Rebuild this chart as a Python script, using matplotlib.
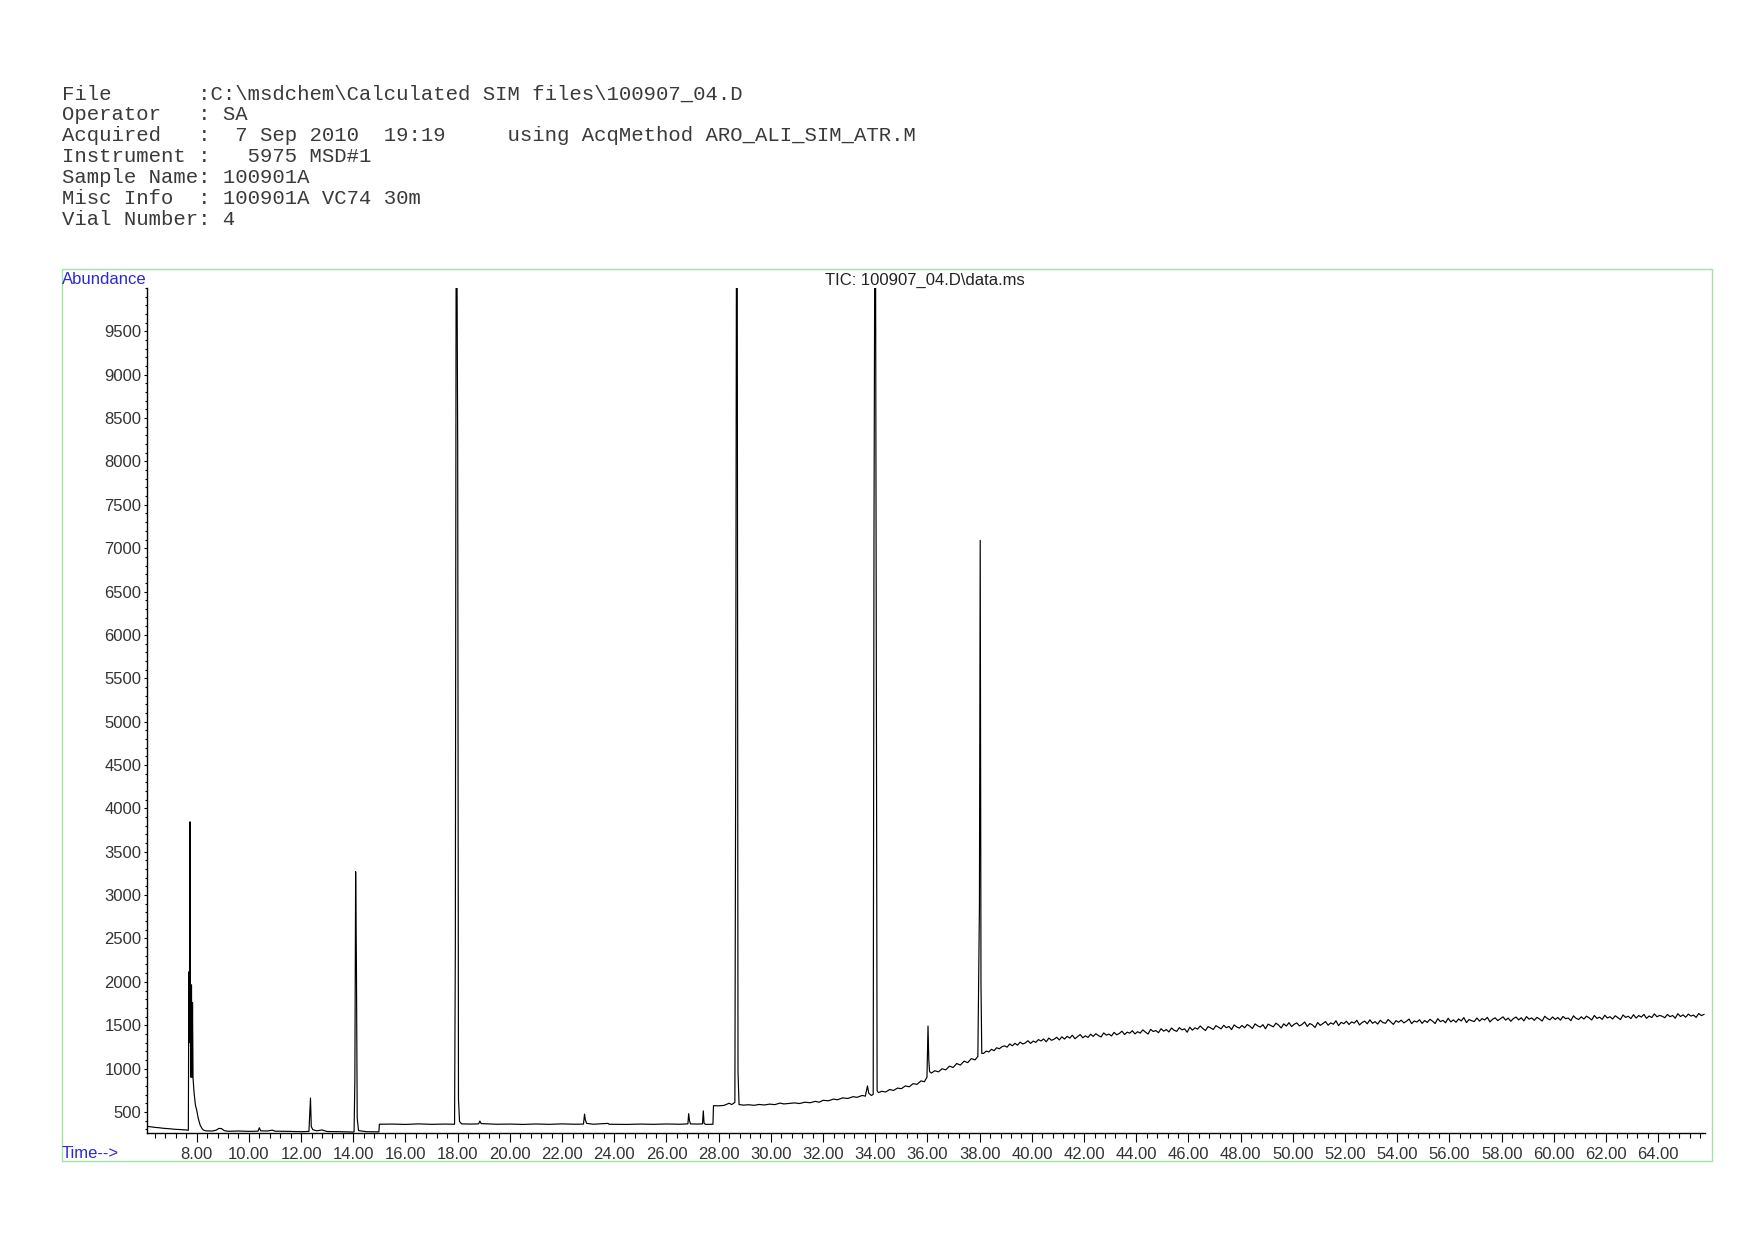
import numpy as np
import matplotlib
matplotlib.use('Agg')
import matplotlib.pyplot as plt
from matplotlib.ticker import FixedLocator, MultipleLocator
from matplotlib.patches import Rectangle

plt.rcParams['font.family'] = ['Liberation Sans', 'DejaVu Sans']

# header block of the ChemStation report
header_lines = [
    'File       :C:\\msdchem\\Calculated SIM files\\100907_04.D',
    'Operator   : SA',
    'Acquired   :  7 Sep 2010  19:19     using AcqMethod ARO_ALI_SIM_ATR.M',
    'Instrument :   5975 MSD#1',
    'Sample Name: 100901A',
    'Misc Info  : 100901A VC74 30m',
    'Vial Number: 4',
]
trace_title = 'TIC: 100907_04.D\\data.ms'

# TIC trace (time in min, abundance)
time_min = [
    6.10, 6.15, 6.25, 6.40, 6.55, 6.70, 6.85, 7.00, 7.15, 7.30, 7.45, 7.60, 7.68,
    7.70, 7.72, 7.74, 7.76, 7.78, 7.80, 7.82, 7.84, 7.86,
    7.90, 7.95, 8.00, 8.06, 8.13, 8.20, 8.25, 8.35, 8.60, 8.75, 8.85, 8.95, 9.05,
    9.20, 9.60, 10.00, 10.35, 10.40, 10.45, 10.70, 10.90, 11.00, 11.50, 12.00,
    12.30, 12.33, 12.36, 12.39, 12.45, 12.60, 12.80, 13.00, 13.50, 14.00,
    14.03, 14.06, 14.09, 14.12, 14.15, 14.20, 14.50, 14.98,
    15.00, 15.50, 16.00, 16.50, 17.00, 17.50, 17.88,
    17.91, 17.94, 17.97, 18.00, 18.03, 18.07, 18.15, 18.50, 18.80, 18.85, 18.90,
    19.50, 20.00, 20.50, 21.00, 21.50, 22.00, 22.50, 22.82, 22.86, 22.89, 22.94,
    23.20, 23.76, 23.80, 24.50, 25.00, 25.50, 26.00, 26.50, 26.82, 26.85, 26.88,
    26.92, 27.20, 27.38, 27.41, 27.44, 27.50, 27.78, 27.80, 28.00, 28.20, 28.40,
    28.50, 28.62, 28.65, 28.68, 28.71, 28.74,
    28.78, 28.95, 29.15, 29.35, 29.55, 29.75, 29.95, 30.15, 30.35, 30.50, 30.70,
    30.90, 31.10, 31.30, 31.50, 31.70, 31.85, 32.00, 32.20, 32.40, 32.55, 32.75,
    32.95, 33.15, 33.30, 33.50, 33.62, 33.70, 33.75, 33.85, 33.92,
    33.95, 33.98, 34.01, 34.04,
    34.07, 34.12, 34.25, 34.40, 34.55, 34.70, 34.85, 35.00, 35.15, 35.30, 35.45,
    35.60, 35.75, 35.88, 35.98, 36.02, 36.05,
    36.08, 36.15, 36.28, 36.42, 36.56, 36.70, 36.84, 36.98, 37.12, 37.26, 37.40,
    37.54, 37.68, 37.82, 37.93,
    37.99, 38.02, 38.05, 38.08,
]
abundance = [
    338, 332, 328, 322, 318, 312, 309, 305, 300, 298, 295, 292, 288,
    2115, 1300, 3845, 1350, 900, 1965, 900, 1760, 890,
    720, 580, 520, 425, 350, 310, 292, 282, 280, 290, 310, 308, 285,
    277, 280, 276, 278, 318, 282, 280, 290, 278, 276, 272,
    275, 470, 660, 330, 295, 282, 292, 274, 272, 268,
    270, 870, 3270, 2190, 430, 285, 272, 270,
    358, 360, 356, 362, 357, 360, 358,
    2420, 10500, 10500, 8170, 650, 390, 362, 360, 362, 395, 365,
    358, 360, 356, 361, 357, 362, 358, 360, 475, 410, 368,
    358, 368, 358, 356, 360, 357, 361, 358, 362, 480, 400,
    362, 360, 362, 512, 370, 356, 358, 572, 570, 575, 600,
    585, 610, 4360, 10500, 10500, 960,
    585, 578, 583, 576, 586, 580, 590, 584, 602, 592, 598,
    604, 597, 612, 606, 622, 612, 634, 628, 648, 640, 662,
    655, 676, 668, 690, 682, 800, 715, 690, 702,
    7110, 10500, 10500, 5300,
    745, 722, 738, 730, 758, 748, 775, 768, 800, 790, 826,
    818, 858, 848, 900, 1490, 1100,
    965, 948, 975, 962, 998, 985, 1028, 1012, 1058, 1040, 1085,
    1068, 1115, 1100, 1140,
    2860, 7090, 1960, 1175,
]

# noisy rising baseline after the last peak, one reading every 0.1 min
tail_start, tail_end = 38.15, 65.75
tail_abundance = [
    1175, 1201, 1192, 1222, 1206, 1240, 1228, 1251, 1262, 1247,
    1284, 1262, 1291, 1270, 1305, 1283, 1296, 1321, 1290, 1317,
    1302, 1334, 1318, 1341, 1309, 1352, 1326, 1338, 1361, 1330,
    1366, 1340, 1372, 1351, 1385, 1344, 1368, 1392, 1355, 1377,
    1359, 1396, 1371, 1402, 1380, 1364, 1411, 1385, 1398, 1376,
    1417, 1389, 1405, 1431, 1392, 1420, 1408, 1437, 1399, 1425,
    1409, 1446, 1421, 1398, 1452, 1427, 1439, 1413, 1460, 1431,
    1450, 1422, 1468, 1441, 1429, 1472, 1446, 1458, 1419, 1477,
    1443, 1470, 1455, 1491, 1462, 1438, 1484, 1469, 1450, 1495,
    1476, 1458, 1499, 1471, 1486, 1449, 1503, 1480, 1466, 1497,
    1470, 1508, 1489, 1462, 1515, 1493, 1478, 1506, 1459, 1512,
    1497, 1481, 1523, 1502, 1468, 1516, 1490, 1529, 1484, 1511,
    1526, 1492, 1508, 1537, 1486, 1519, 1503, 1474, 1531, 1498,
    1519, 1542, 1500, 1527, 1511, 1551, 1495, 1533, 1517, 1546,
    1508, 1538, 1524, 1556, 1503, 1530, 1547, 1516, 1562, 1522,
    1541, 1513, 1557, 1530, 1522, 1566, 1538, 1509, 1552, 1534,
    1558, 1527, 1545, 1571, 1518, 1549, 1536, 1563, 1521, 1554,
    1532, 1568, 1547, 1519, 1575, 1541, 1556, 1528, 1580, 1538,
    1561, 1534, 1572, 1549, 1588, 1530, 1565, 1551, 1542, 1583,
    1547, 1576, 1560, 1591, 1538, 1569, 1585, 1553, 1574, 1596,
    1559, 1582, 1545, 1577, 1594, 1561, 1586, 1550, 1599, 1570,
    1584, 1556, 1590, 1571, 1548, 1603, 1577, 1562, 1595, 1566,
    1589, 1558, 1601, 1575, 1583, 1552, 1608, 1579, 1566, 1597,
    1571, 1604, 1585, 1560, 1612, 1578, 1593, 1567, 1615, 1583,
    1598, 1572, 1609, 1587, 1565, 1618, 1590, 1603, 1576, 1621,
    1582, 1611, 1594, 1625, 1579, 1606, 1588, 1630, 1597, 1613,
    1603, 1586, 1624, 1598, 1612, 1581, 1633, 1600, 1619, 1592,
    1628, 1605, 1617, 1590, 1635, 1611, 1624,
]

x_ticks = list(range(8, 65, 2))
y_ticks = list(range(500, 10000, 500))

W, H = 1754, 1240
fig = plt.figure(figsize=(W / 100, H / 100), dpi=100)

def fx(px):
    return px / W

def fy(py):
    return 1 - py / H

# green frame round the plot area
fig.patches.append(Rectangle((fx(62), fy(1161)), fx(1712) - fx(62), fy(269) - fy(1161),
                             transform=fig.transFigure, fill=False,
                             edgecolor='#9fe3a0', linewidth=1.0))

for i, line in enumerate(header_lines):
    fig.text(fx(62), fy(94 + i * 20.9), line, family='Liberation Mono',
             fontsize=14.9, color='#3a3a3a', ha='left', va='center')

ax = fig.add_axes([fx(147), fy(1133), fx(1705) - fx(147), fy(288) - fy(1133)])

t_all = np.concatenate([time_min, np.linspace(tail_start, tail_end, len(tail_abundance))])
v_all = np.concatenate([abundance, tail_abundance])
ax.plot(t_all, v_all, color='black', linewidth=0.85)

ax.set_xlim(6.096, 65.79)
ax.set_ylim(257, 10000)

for side in ['top', 'right']:
    ax.spines[side].set_visible(False)
for side in ['left', 'bottom']:
    ax.spines[side].set_linewidth(1.0)
    ax.spines[side].set_color('black')

ax.xaxis.set_major_locator(FixedLocator(x_ticks))
ax.set_xticklabels(['%.2f' % t for t in x_ticks])
ax.xaxis.set_minor_locator(MultipleLocator(0.4))
ax.yaxis.set_major_locator(FixedLocator(y_ticks))
ax.set_yticklabels([str(v) for v in y_ticks])
ax.yaxis.set_minor_locator(MultipleLocator(100))

ax.tick_params(axis='x', which='major', direction='out', length=6.7, width=0.8,
               pad=3.2, labelsize=12, labelcolor='#333333')
ax.tick_params(axis='x', which='minor', direction='out', length=3.6, width=0.8)
ax.tick_params(axis='y', which='major', direction='out', length=2.2, width=0.8,
               pad=1.9, labelsize=12, labelcolor='#333333')
ax.tick_params(axis='y', which='minor', direction='out', length=1.4, width=0.8)

fig.text(fx(62), fy(280), 'Abundance', color='#2b2bd0', fontsize=12, ha='left', va='center')
fig.text(fx(925), fy(280), trace_title, color='#222222', fontsize=12, ha='center', va='center')
fig.text(fx(62), fy(1154), 'Time-->', color='#2b2bd0', fontsize=12, ha='left', va='center')

fig.savefig('out.png', dpi=100)
